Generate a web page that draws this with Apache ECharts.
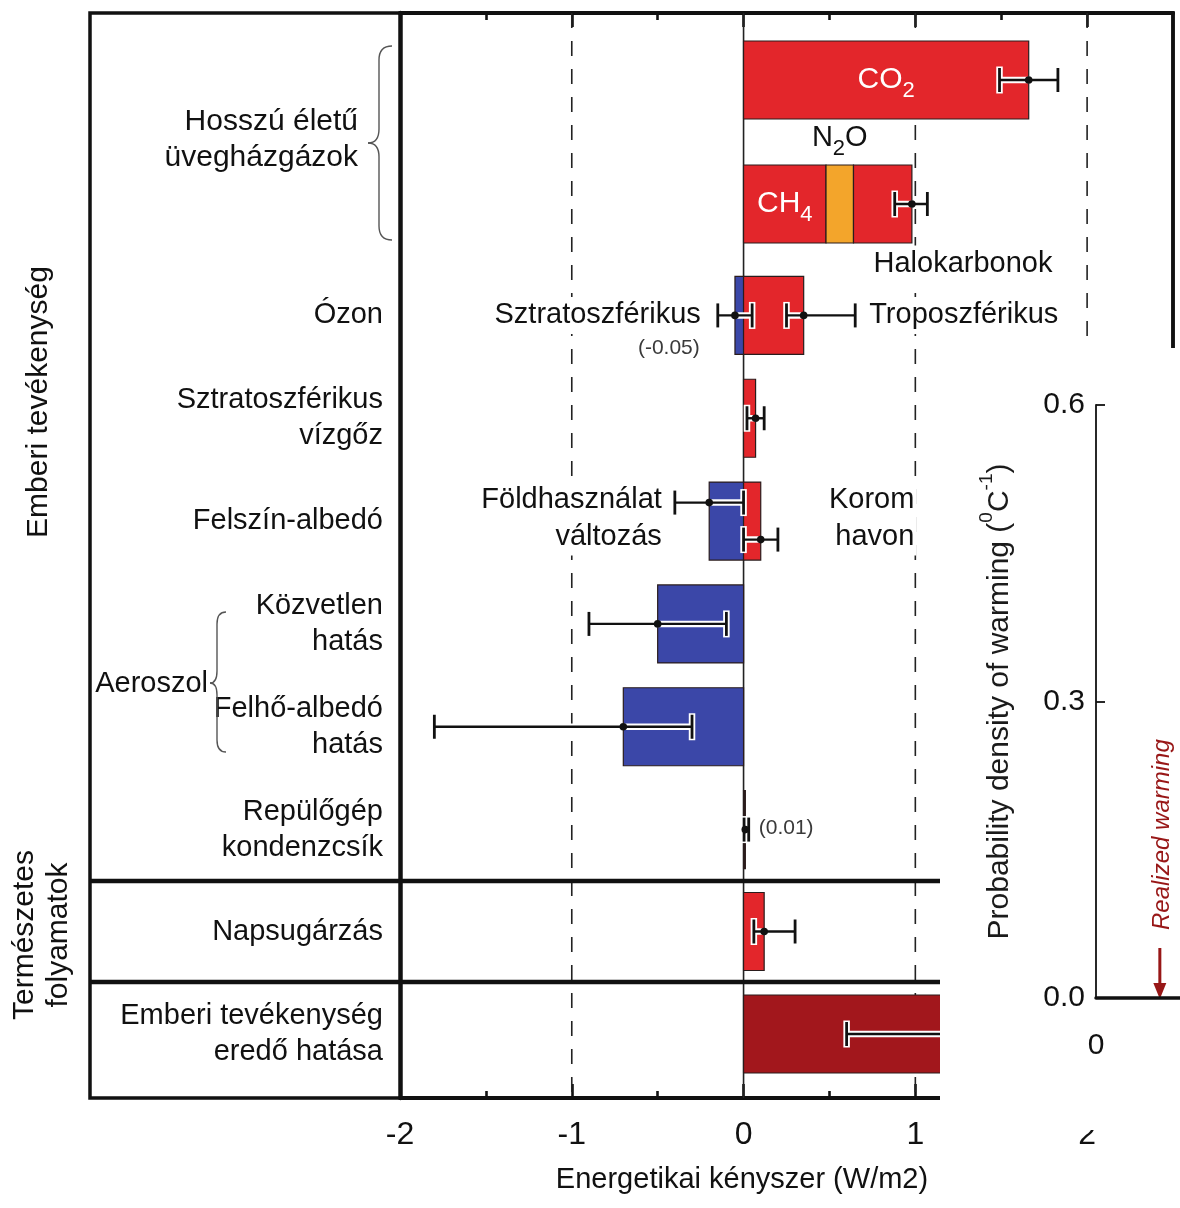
<!DOCTYPE html>
<html lang="hu">
<head>
<meta charset="utf-8">
<title>Energetikai kényszer</title>
<script src="https://cdn.jsdelivr.net/npm/echarts@6/dist/echarts.min.js"></script>
<style>
  html, body { margin: 0; padding: 0; background: #fff; }
  #chart { width: 1180px; height: 1208px; }
</style>
</head>
<body>
<div id="chart"></div>
<script>
// ---------------- Data ----------------
// Row (category) labels, top to bottom, per panel section
const gasRows = ['CO2', 'CH4, N2O, halokarbonok'];
const otherRows = ['Ózon', 'Sztratoszférikus\nvízgőz', 'Felszín-albedó', 'Közvetlen\nhatás', 'Felhő-albedó\nhatás', 'Repülőgép\nkondenzcsík'];
const naturalRows = ['Napsugárzás'];
const totalRows = ['Emberi tevékenység\neredő hatása'];

// Forcing components (W/m2); components sharing a row are stacked by sign
const componentNames = ['CO2', 'CH4', 'N2O', 'Halokarbonok', 'Sztratoszférikus ózon', 'Troposzférikus ózon',
  'Sztratoszférikus vízgőz', 'Földhasználat változás', 'Korom havon', 'Közvetlen aeroszolhatás',
  'Felhő-albedó hatás', 'Kondenzcsík', 'Napsugárzás', 'Eredő hatás'];
const componentRows = ['CO2', 'CH4, N2O, halokarbonok', 'CH4, N2O, halokarbonok', 'CH4, N2O, halokarbonok',
  'Ózon', 'Ózon', 'Sztratoszférikus\nvízgőz', 'Felszín-albedó', 'Felszín-albedó', 'Közvetlen\nhatás',
  'Felhő-albedó\nhatás', 'Repülőgép\nkondenzcsík', 'Napsugárzás', 'Emberi tevékenység\neredő hatása'];
const componentValues = [1.66, 0.48, 0.16, 0.34, -0.05, 0.35, 0.07, -0.20, 0.10, -0.50, -0.70, 0.01, 0.12, 1.60];

// Uncertainty ranges (W/m2)
const errorRows = ['CO2', 'CH4, N2O, halokarbonok', 'Ózon', 'Ózon', 'Sztratoszférikus\nvízgőz',
  'Felszín-albedó', 'Felszín-albedó', 'Közvetlen\nhatás', 'Felhő-albedó\nhatás', 'Repülőgép\nkondenzcsík',
  'Napsugárzás', 'Emberi tevékenység\neredő hatása'];
const errorCentre = [1.66, 0.98, -0.05, 0.35, 0.07, -0.20, 0.10, -0.50, -0.70, 0.01, 0.12, 1.60];
const errorLow    = [1.49, 0.88, -0.15, 0.25, 0.02, -0.40, 0.00, -0.90, -1.80, 0.003, 0.06, 0.60];
const errorHigh   = [1.83, 1.07,  0.05, 0.65, 0.12,  0.00, 0.20, -0.10, -0.30, 0.03, 0.30, 2.40];
// Half of a shared row a whisker sits in: 0 centre, -1 upper, 1 lower
const errorLane   = [0, 0, 0, 0, 0, -1, 1, 0, 0, 0, 0, 0];

// Forcing axis ticks
const forcingTicks = [-2, -1, 0, 1, 2];
const forcingMinorTicks = [-1.5, -0.5, 0.5, 1.5];
const referenceLines = [-1, 0, 1, 2];

// Inset: probability density of warming
const densityTicks = [0, 0.3, 0.6];
const warmingTicks = [0];
const realizedWarming = 0.76;

// ---------------- Layout & style ----------------
const FONT = '"Liberation Sans", Arial, Helvetica, sans-serif';
const INK = '#111';
const COLOURS = { pos: '#E3262B', neg: '#3B47A8', n2o: '#F3A52B', total: '#A2171C', outline: '#2a1c1c' };
const DARK_RED = '#981717';
const BAR_H = 78;
const LANE = 18.5;
const X_MIN = -2, X_MAX = 2.5;
const FRAME = { left: 90, top: 13, right: 1173, bottom: 1098 };
const PLOT_LEFT = 400, PLOT_RIGHT = 1180 - FRAME.right;
const sections = [
  { rows: gasRows, top: 18, height: 248, labels: false },
  { rows: otherRows, top: 264, height: 617, labels: true },
  { rows: naturalRows, top: 881, height: 101, labels: true },
  { rows: totalRows, top: 984, height: 100, labels: true }
];
const separators = [881, 982];
const INSET = { left: 1096, top: 405, width: 168, height: 593 };
const COVER = { x: 940, y: 348, width: 240, height: 782 };

function locate(row) {
  for (let s = 0; s < sections.length; s++) {
    const r = sections[s].rows.indexOf(row);
    if (r >= 0) return { s, r };
  }
  return null;
}

// Stack components within each row (positive and negative parts separately)
const posEnd = {}, negEnd = {};
const segments = componentNames.map((name, k) => {
  const row = componentRows[k], v = componentValues[k];
  const acc = v >= 0 ? posEnd : negEnd;
  const from = acc[row] || 0, to = from + v;
  acc[row] = to;
  const loc = locate(row);
  return { name, from, to, s: loc.s, r: loc.r, k };
});
const seg = name => segments[componentNames.indexOf(name)];
const mid = sg => (sg.from + sg.to) / 2;

function colourOf(name, v) {
  if (name === 'N2O') return COLOURS.n2o;
  if (name === 'Eredő hatás') return COLOURS.total;
  return v < 0 ? COLOURS.neg : COLOURS.pos;
}

// In-plot annotations, anchored to the marks they describe
const notes = [
  { row: 'CO2', x: mid(seg('CO2')), text: '{m|CO}{s|2}', sub: true, fill: '#fff', size: 30, align: 'center', bare: true },
  { row: gasRows[1], x: mid(seg('CH4')), text: '{m|CH}{s|4}', sub: true, fill: '#fff', size: 30, align: 'center', bare: true },
  { row: gasRows[1], x: mid(seg('N2O')), text: '{m|N}{s|2}{m|O}', sub: true, fill: INK, size: 29, align: 'center', dy: -66, bare: true },
  { row: gasRows[1], x: seg('Halokarbonok').from, text: 'Halokarbonok', align: 'left', dx: 18, dy: 60 },
  { row: 'Ózon', x: errorLow[2], text: 'Sztratoszférikus', align: 'right', dx: -15 },
  { row: 'Ózon', x: errorLow[2], text: '(-0.05)', small: true, align: 'right', dx: -16, dy: 33 },
  { row: 'Ózon', x: errorHigh[3], text: 'Troposzférikus', align: 'left', dx: 12 },
  { row: 'Felszín-albedó', x: errorLow[5], text: 'Földhasználat\nváltozás', align: 'right', dx: -11, dy: -2.5 },
  { row: 'Felszín-albedó', x: referenceLines[2], text: 'Korom\nhavon', align: 'right', dx: 1, dy: -2.5 },
  { row: 'Repülőgép\nkondenzcsík', x: errorHigh[9], text: '(0.01)', small: true, align: 'left', dx: 8, dy: -1 }
].map(n => Object.assign(n, locate(n.row)));

// ---------------- Render helpers ----------------
function renderBar(params, api) {
  const k = api.value(3), row = api.value(2);
  const p0 = api.coord([api.value(0), row]);
  const p1 = api.coord([api.value(1), row]);
  const x = Math.min(p0[0], p1[0]);
  const raw = Math.abs(p1[0] - p0[0]);
  const w = Math.max(raw, 1.8);
  // a sliver narrower than its own outline reads as a dark rule
  const fill = raw < 3 ? COLOURS.outline : colourOf(componentNames[k], componentValues[k]);
  return {
    type: 'rect',
    shape: { x: x, y: p0[1] - BAR_H / 2, width: w, height: BAR_H },
    style: { fill: fill, stroke: COLOURS.outline, lineWidth: 1.2 }
  };
}

function renderError(params, api) {
  const k = api.value(3), row = api.value(4);
  const lo = api.coord([api.value(0), row]);
  const hi = api.coord([api.value(1), row]);
  const c = api.coord([api.value(2), row]);
  const y = lo[1] + errorLane[k] * LANE;
  const cap = 12;
  const halo = { stroke: '#fff', lineWidth: 6.5 };
  const ink = { stroke: INK, lineWidth: 2.4 };
  const capInk = { stroke: INK, lineWidth: 2.8 };
  const line = (x1, y1, x2, y2, style) => ({ type: 'line', shape: { x1, y1, x2, y2 }, style });
  return {
    type: 'group',
    children: [
      line(lo[0], y, hi[0], y, halo),
      line(lo[0], y - cap - 1.5, lo[0], y + cap + 1.5, halo),
      line(hi[0], y - cap - 1.5, hi[0], y + cap + 1.5, halo),
      line(lo[0], y, hi[0], y, ink),
      line(lo[0], y - cap, lo[0], y + cap, capInk),
      line(hi[0], y - cap, hi[0], y + cap, capInk),
      { type: 'circle', shape: { cx: c[0], cy: y, r: 3.8 }, style: { fill: INK } }
    ]
  };
}

function renderNote(params, api) {
  const n = notes[api.value(2)];
  const p = api.coord([api.value(0), api.value(1)]);
  const size = n.small ? 21 : (n.size || 29);
  const fill = n.fill || (n.small ? '#3a3a3a' : INK);
  const style = {
    text: n.text, fill: fill, fontSize: size, fontFamily: FONT, lineHeight: 37,
    align: n.align, verticalAlign: 'middle', textAlign: n.align, textVerticalAlign: 'middle'
  };
  if (!n.bare) {
    // plain labels sit on white so the guide lines pass behind them
    style.backgroundColor = '#fff';
    style.padding = [0, 2, 0, 2];
  }
  if (n.sub) {
    style.rich = {
      m: { fontSize: size, lineHeight: 44, fontFamily: FONT, fill: fill, color: fill },
      s: { fontSize: 22, lineHeight: 22, verticalAlign: 'bottom', fontFamily: FONT, fill: fill, color: fill }
    };
  }
  return { type: 'text', x: p[0] + (n.dx || 0), y: p[1] + (n.dy || 0), style: style };
}

function renderReference(params, api) {
  const v = api.value(0);
  const a = api.coord([v, 1]), b = api.coord([v, 0]);
  const style = { stroke: '#222', lineWidth: 1.6 };
  if (v !== 0) style.lineDash = [15, 13];
  return { type: 'line', shape: { x1: a[0], y1: a[1], x2: b[0], y2: b[1] }, style: style };
}

function renderRealized(params, api) {
  const p = api.coord([api.value(0), 0]);
  const x = p[0], y0 = p[1];
  return {
    type: 'group',
    children: [
      { type: 'line', shape: { x1: x, y1: y0 - 50, x2: x, y2: y0 - 12 }, style: { stroke: DARK_RED, lineWidth: 3 } },
      { type: 'polygon', shape: { points: [[x - 6.5, y0 - 15], [x + 6.5, y0 - 15], [x, y0 + 1]] }, style: { fill: DARK_RED } },
      { type: 'text', x: x + 2, y: y0 - 68, rotation: Math.PI / 2,
        style: { text: 'Realized warming', fill: DARK_RED, fontSize: 24, fontStyle: 'italic', fontFamily: FONT,
                 align: 'left', verticalAlign: 'middle', textAlign: 'left', textVerticalAlign: 'middle' } }
    ]
  };
}

// Curly brace opening to the right: tip at xTip, ends at xEnd
function brace(xTip, xSpine, xEnd, yTop, yMid, yBot, r) {
  const st = { stroke: '#555', lineWidth: 1.4, fill: 'none' };
  const z = 5;
  return [
    { type: 'bezierCurve', z, shape: { x1: xEnd, y1: yTop, x2: xSpine, y2: yTop + r, cpx1: xSpine, cpy1: yTop }, style: st },
    { type: 'line', z, shape: { x1: xSpine, y1: yTop + r, x2: xSpine, y2: yMid - r }, style: st },
    { type: 'bezierCurve', z, shape: { x1: xSpine, y1: yMid - r, x2: xTip, y2: yMid, cpx1: xSpine, cpy1: yMid }, style: st },
    { type: 'bezierCurve', z, shape: { x1: xTip, y1: yMid, x2: xSpine, y2: yMid + r, cpx1: xSpine, cpy1: yMid }, style: st },
    { type: 'line', z, shape: { x1: xSpine, y1: yMid + r, x2: xSpine, y2: yBot - r }, style: st },
    { type: 'bezierCurve', z, shape: { x1: xSpine, y1: yBot - r, x2: xEnd, y2: yBot, cpx1: xSpine, cpy1: yBot }, style: st }
  ];
}

function label(text, x, y, size, align, extra, lineHeight) {
  return Object.assign({
    type: 'text', x: x, y: y, z: 5,
    style: { text: text, fill: INK, fontSize: size, fontFamily: FONT, lineHeight: lineHeight || 36,
             align: align, verticalAlign: 'middle', textAlign: align, textVerticalAlign: 'middle' }
  }, extra || {});
}

// ---------------- Components ----------------
const grids = [
  { left: PLOT_LEFT, right: PLOT_RIGHT, top: FRAME.top, height: FRAME.bottom - FRAME.top },
  ...sections.map(s => ({ left: PLOT_LEFT, right: PLOT_RIGHT, top: s.top, height: s.height })),
  { left: INSET.left, top: INSET.top, width: INSET.width, height: INSET.height }
].map(g => Object.assign(g, { containLabel: false, outerBoundsMode: 'none' }));

const tickLine = { color: INK, width: 2.6 };
const none = { show: false };
function frameAxis(position, ticks, len, withLine, extra) {
  return Object.assign({
    gridIndex: 0, type: 'value', position: position, min: X_MIN, max: X_MAX,
    axisLine: { show: withLine, onZero: false, lineStyle: { color: INK, width: 4 } },
    axisTick: { show: true, inside: true, length: len, customValues: ticks, lineStyle: tickLine },
    axisLabel: { show: false }, splitLine: none, minorTick: none
  }, extra || {});
}

const xAxes = [
  frameAxis('bottom', forcingTicks, 14, true, {
    axisLabel: { show: true, customValues: forcingTicks, margin: 21, fontSize: 32, fontFamily: FONT, color: INK },
    name: 'Energetikai kényszer (W/m2)', nameLocation: 'middle', nameGap: 67,
    nameTextStyle: { fontSize: 29, fontFamily: FONT, color: INK, padding: [0, 89, 0, 0] }
  }),
  frameAxis('bottom', forcingMinorTicks, 7, false),
  frameAxis('top', forcingTicks, 14, true),
  frameAxis('top', forcingMinorTicks, 7, false),
  ...sections.map((s, i) => ({ gridIndex: i + 1, type: 'value', min: X_MIN, max: X_MAX, show: false })),
  {
    gridIndex: sections.length + 1, type: 'value', min: 0, max: 2, position: 'bottom', z: 60,
    axisLine: { show: true, onZero: false, lineStyle: { color: INK, width: 3.5 } },
    axisTick: none, splitLine: none,
    axisLabel: { customValues: warmingTicks, margin: 33, fontSize: 30, fontFamily: FONT, color: INK }
  }
];

const yAxes = [
  { gridIndex: 0, type: 'value', min: 0, max: 1, position: 'left',
    axisLine: { show: true, onZero: false, lineStyle: { color: INK, width: 4.5 } },
    axisTick: none, axisLabel: none, splitLine: none },
  { gridIndex: 0, type: 'value', min: 0, max: 1, position: 'right',
    axisLine: { show: true, onZero: false, lineStyle: { color: INK, width: 3.5 } },
    axisTick: none, axisLabel: none, splitLine: none },
  ...sections.map((s, i) => ({
    gridIndex: i + 1, type: 'category', data: s.rows, inverse: true,
    axisLine: none, axisTick: none, splitLine: none,
    axisLabel: { show: s.labels, interval: 0, margin: 17, fontSize: 29, lineHeight: 36, fontFamily: FONT, color: INK }
  })),
  {
    gridIndex: sections.length + 1, type: 'value', min: densityTicks[0], max: densityTicks[2], interval: 0.3,
    position: 'left', z: 60,
    axisLine: { show: true, onZero: false, lineStyle: { color: INK, width: 1.8 } },
    axisTick: { show: true, inside: true, length: 9, customValues: densityTicks, lineStyle: { color: INK, width: 1.8 } },
    axisLabel: { customValues: densityTicks, margin: 11, fontSize: 30, fontFamily: FONT, color: INK, formatter: v => v.toFixed(1) },
    splitLine: none,
    name: '{n|Probability density of warming (}{s|0}{n|C}{s|-1}{n|)}',
    nameLocation: 'middle', nameRotate: 90, nameGap: 73,
    nameTextStyle: {
      rich: {
        n: { fontSize: 30, lineHeight: 46, fontFamily: FONT, color: '#1b1b1b' },
        s: { fontSize: 19, lineHeight: 19, verticalAlign: 'top', fontFamily: FONT, color: '#1b1b1b' }
      }
    }
  }
];

const series = [{
  type: 'custom', name: 'Referenciavonalak', xAxisIndex: 0, yAxisIndex: 0, z: 1, silent: true,
  data: referenceLines.map(v => [v, 0]), encode: { x: 0, y: 1 }, renderItem: renderReference
}];

sections.forEach((s, si) => {
  const axes = { xAxisIndex: 4 + si, yAxisIndex: 2 + si };
  series.push(Object.assign({
    type: 'custom', name: 'Kényszer ' + si, z: 3, silent: true,
    data: segments.filter(g => g.s === si).map(g => [g.from, g.to, g.r, g.k]),
    encode: { x: [0, 1], y: 2 }, renderItem: renderBar
  }, axes));
  const errs = [];
  errorRows.forEach((row, k) => {
    const loc = locate(row);
    if (loc.s === si) errs.push([errorLow[k], errorHigh[k], errorCentre[k], k, loc.r]);
  });
  series.push(Object.assign({
    type: 'custom', name: 'Bizonytalanság ' + si, z: 4, silent: true,
    data: errs, encode: { x: [0, 1, 2], y: 4 }, renderItem: renderError
  }, axes));
  const ns = [];
  notes.forEach((n, i) => { if (n.s === si) ns.push([n.x, n.r, i]); });
  if (ns.length) {
    series.push(Object.assign({
      type: 'custom', name: 'Feliratok ' + si, z: 5, silent: true,
      data: ns, encode: { x: 0, y: 1 }, renderItem: renderNote
    }, axes));
  }
});

series.push({
  type: 'custom', name: 'Realized warming', xAxisIndex: xAxes.length - 1, yAxisIndex: yAxes.length - 1,
  z: 60, silent: true, data: [[realizedWarming, 0]], encode: { x: 0, y: 1 }, renderItem: renderRealized
});

const graphics = [
  { type: 'rect', z: 1, silent: true,
    shape: { x: FRAME.left, y: FRAME.top, width: FRAME.right - FRAME.left, height: FRAME.bottom - FRAME.top },
    style: { fill: 'none', stroke: INK, lineWidth: 3.5 } },
  ...separators.map(y => ({ type: 'line', z: 6, silent: true,
    shape: { x1: FRAME.left, y1: y, x2: FRAME.right, y2: y }, style: { stroke: INK, lineWidth: 4.5 } })),
  label('Hosszú életű\nüvegházgázok', 358, 140, 30, 'right'),
  ...brace(368, 379, 392, 46, 143, 240, 14),
  label('Aeroszol', 208, 684, 29, 'right'),
  ...brace(210, 217, 226, 612, 683, 752, 12),
  label('Emberi tevékenység', 39, 402, 30, 'center', { rotation: Math.PI / 2 }),
  label('Természetes\nfolyamatok', 42, 935, 30, 'center', { rotation: Math.PI / 2 }, 34),
  // the inset panel sits on a white card over the lower right of the forcing panel
  { type: 'rect', z: 50, silent: true, shape: COVER, style: { fill: '#fff', stroke: 'none' } }
];

const chart = echarts.init(document.getElementById('chart'), null, { renderer: 'canvas' });
chart.setOption({
  animation: false,
  backgroundColor: '#fff',
  grid: grids,
  xAxis: xAxes,
  yAxis: yAxes,
  series: series,
  graphic: { elements: graphics }
});
</script>
</body>
</html>
